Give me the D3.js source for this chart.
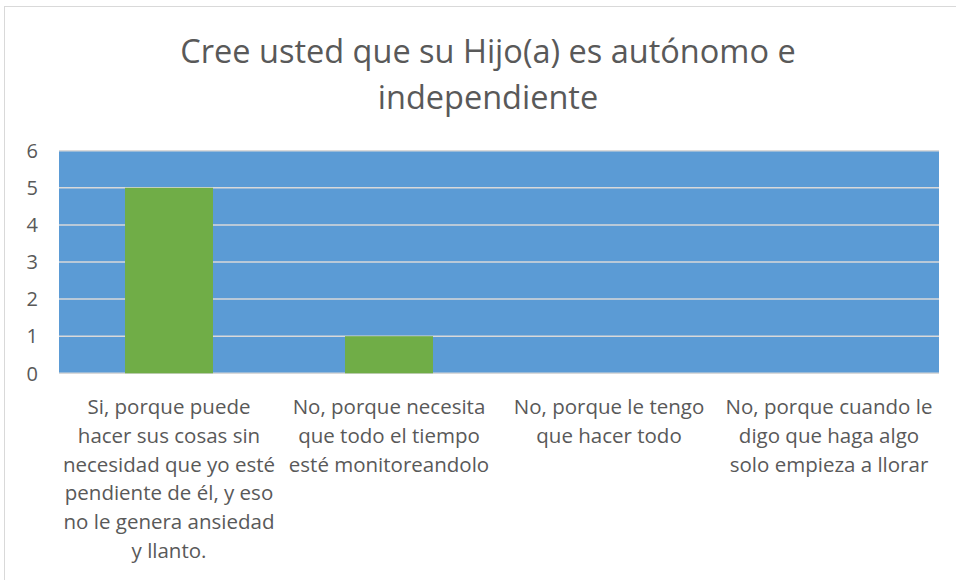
<!DOCTYPE html>
<html><head><meta charset="utf-8">
<script src="https://cdn.jsdelivr.net/npm/d3@7"></script>
<style>body{margin:0;background:#fff}svg{display:block}</style>
</head><body><svg id="c" width="956" height="580"></svg>
<script>
const titleLines = ["Cree usted que su Hijo(a) es autónomo e", "independiente"];
const categories = [
  ["Si, porque puede", "hacer sus cosas sin", "necesidad que yo esté", "pendiente de él, y eso", "no le genera ansiedad", "y llanto."],
  ["No, porque necesita", "que todo el tiempo", "esté monitoreandolo"],
  ["No, porque le tengo", "que hacer todo"],
  ["No, porque cuando le", "digo que haga algo", "solo empieza a llorar"]
];
const values = [5, 1, 0, 0];
const yTicks = [0, 1, 2, 3, 4, 5, 6];

(function () {
const font = "'Open Sans', sans-serif";
const svg = d3.select("#c");
svg.append("rect").attr("x", 4.5).attr("y", 6.5).attr("width", 1000).attr("height", 1000)
  .attr("fill", "#fff").attr("stroke", "#D9D9D9").attr("stroke-width", 1);

const pL = 59, pR = 939, pT = 150.7, pB = 373.3;
const x = d3.scaleBand().domain(d3.range(categories.length)).range([pL, pR]).paddingInner(0.6).paddingOuter(0.3);
const y = d3.scaleLinear().domain([0, 6]).range([pB, pT]);

svg.append("rect").attr("x", pL).attr("y", pT).attr("width", pR - pL).attr("height", pB - pT).attr("fill", "#5B9BD5");

svg.append("g").selectAll("line").data(yTicks).join("line")
  .attr("x1", pL).attr("x2", pR).attr("y1", d => y(d)).attr("y2", d => y(d))
  .attr("stroke", "#D9D9D9").attr("stroke-width", 1.5);

svg.append("g").selectAll("rect").data(values).join("rect")
  .attr("x", (d, i) => x(i)).attr("width", x.bandwidth())
  .attr("y", d => y(d)).attr("height", d => y(0) - y(d)).attr("fill", "#70AD47");

svg.append("g").selectAll("text").data(yTicks).join("text")
  .attr("x", 38).attr("y", d => y(d)).attr("dy", "0.36em").attr("text-anchor", "end")
  .attr("font-family", font).attr("font-size", 20).attr("fill", "#595959").text(d => d);

const band = (pR - pL) / categories.length;
const lab = svg.append("g").selectAll("text").data(categories).join("text")
  .attr("text-anchor", "middle").attr("font-family", font).attr("font-size", 20.5).attr("fill", "#595959");
lab.selectAll("tspan").data((d, i) => d.map(s => ({s, i}))).join("tspan")
  .attr("x", d => pL + band * d.i + band / 2).attr("y", (d, j) => 414 + j * 28.8).text(d => d.s);

svg.append("g").selectAll("text").data(titleLines).join("text")
  .attr("x", 488).attr("y", (d, i) => 63 + i * 46).attr("text-anchor", "middle")
  .attr("font-family", font).attr("font-size", 32.5).attr("fill", "#595959").text(d => d);
})();
</script></body></html>
